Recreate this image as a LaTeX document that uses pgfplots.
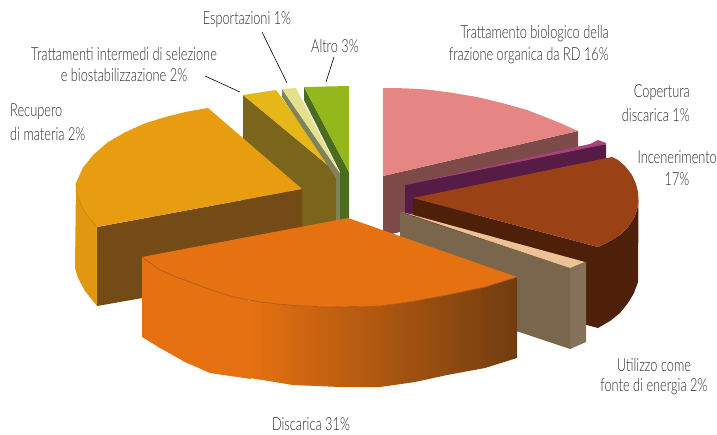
\documentclass[border=0pt]{standalone}
\usepackage{fontspec}
\setmainfont[FakeStretch=0.71]{Lato Light}
\usepackage{pgfplots}
\pgfplotsset{compat=1.18}
\definecolor{pinktop}{HTML}{E68684}
\definecolor{pinkside}{HTML}{7D4A4A}
\definecolor{purpletop}{HTML}{A8437A}
\definecolor{purpleside}{HTML}{561C46}
\definecolor{rusttop}{HTML}{9A4116}
\definecolor{rustside}{HTML}{4E2009}
\definecolor{peachtop}{HTML}{EBC396}
\definecolor{greyside}{HTML}{7A654D}
\definecolor{greyend}{HTML}{85705A}
\definecolor{yellowtop}{HTML}{E6B718}
\definecolor{oliveside}{HTML}{7B651A}
\definecolor{paletop}{HTML}{E5E08E}
\definecolor{paleside}{HTML}{80825A}
\definecolor{greentop}{HTML}{94B81C}
\definecolor{greenside}{HTML}{4A6C1C}
\definecolor{ambertop}{HTML}{E89C10}
\definecolor{amberside}{HTML}{744A16}
\definecolor{orangetop}{HTML}{E67110}
\definecolor{orangemid}{HTML}{B55A1B}
\definecolor{orangeend}{HTML}{713C10}
\definecolor{txt}{HTML}{2E2E2E}
\tikzset{lab/.style={text=txt,font=\fontsize{18}{20}\selectfont,inner sep=0pt}}
\begin{document}
\begin{tikzpicture}
\begin{axis}[scale only axis,width=717pt,height=435pt,xmin=0,xmax=717,ymin=0,ymax=435,y dir=reverse,axis lines=none,clip=false]
% pink
\addplot[fill=pinkside,draw=none] coordinates {(383,176)(578,131)(578,190)(383,236)} --cycle;
\addplot[fill=pinktop,draw=none] coordinates {(383,88)(405,88.3)(427,89.5)(450,92.5)(477,97)(502,103)(527,110)(545,117)(560,123)(578,131)(383,176)} --cycle;
% purple
\addplot[fill=purpleside,draw=none] coordinates {(405,185)(602,143)(606,145)(606,165)(405,215)} --cycle;
\addplot[fill=purpletop,draw=none] coordinates {(405,185)(590,144)(598,140)(606,143)(606,145)(602,145)} --cycle;
% incenerimento
\addplot[fill=rustside,draw=none] coordinates {(413,198)(598,247)(598,328)(413,280)} --cycle;
\addplot[fill=rustside,draw=none] coordinates {(598,247)(610,241)(620,235)(628,227)(634,218)(637,210)(638.5,200)(638,282)(634,293)(628,303)(620,313)(610,321)(598,328)} --cycle;
\addplot[fill=rusttop,draw=none] coordinates {(413,198)(612,157)(618,160)(625,166)(632,175)(636,184)(638,192)(638.5,200)(637,210)(634,218)(628,227)(620,235)(610,241)(598,247)} --cycle;
% utilizzo
\addplot[fill=greyside,draw=none] coordinates {(400,212)(570,268)(570,349)(400,292)} --cycle;
\addplot[fill=greyend,draw=none] coordinates {(570,268)(586,262)(586,342)(570,349)} --cycle;
\addplot[fill=peachtop,draw=none] coordinates {(402,212)(585,262)(570,268)} --cycle;
% trattamenti intermedi
\addplot[fill=oliveside,draw=none] coordinates {(243,95)(336,172)(336,235)(243,235)} --cycle;
\addplot[fill=yellowtop,draw=none] coordinates {(243,95)(276,90)(336,172)} --cycle;
% esportazioni
\addplot[fill=paleside,draw=none] coordinates {(282,89)(338,170)(341,175)(341,235)(336,235)(336,178)(282,97)} --cycle;
\addplot[fill=paletop,draw=none] coordinates {(282,89)(296,88)(339,172)} --cycle;
% altro
\addplot[fill=greenside,draw=none] coordinates {(304,87)(349,172)(349,230)(340,230)(340,172)(304,100)} --cycle;
\addplot[fill=greentop,draw=none] coordinates {(304,87)(349,86)(349,172)} --cycle;
% recupero
\addplot[fill=amberside,draw=none] coordinates {(97,227)(302,189)(302,270)(97,306)} --cycle;
\addplot[fill=ambertop!97!black,draw=none] coordinates {(76,183)(76.5,190)(78,197)(82,207)(89,218)(97,227)(97,306)(85,291)(78,278)(75,268)} --cycle;
\addplot[fill=ambertop,draw=none] coordinates {(208,108)(186.2,111.8)(164.7,117.2)(143.8,123.8)(124.8,132.4)(107.6,142.4)(93.7,154.4)(82.8,167.8)(76,183)(76.5,190)(78,197)(82,207)(89,218)(97,227)(302,189)} --cycle;
\addplot[color=ambertop!80!black,line width=0.4pt] coordinates {(76,183)(76.5,190)(78,197)(82,207)(89,218)(97,227)};
% discarica
\addplot[fill=orangetop,draw=none] coordinates {(142,257)(160,270)(176,277)(193,283)(210,289.5)(227,295)(251,301)(251,379)(210,373)(185,362)(160,348)(142,337)} --cycle;
\addplot[draw=none,left color=orangetop,middle color=orangemid,right color=orangeend] coordinates {(250,300.5)(293,305)(327,307)(380,306)(415,301)(447,295)(485,287)(517,277)(517,358)(485,368)(447,375)(415,382)(380,387)(340,387)(293,385)(250,378)} --cycle;
\addplot[fill=orangetop,draw=none] coordinates {(348,218)(517,277)(485,287)(447,295)(415,301)(380,306)(327,307)(293,305.5)(260,302)(243,299)(227,295)(210,289.5)(193,283)(176,277)(160,270)(142,257)} --cycle;
\addplot[color=orangemid,line width=0.7pt] coordinates {(142,257)(160,270)(176,277)(193,283)(210,289.5)(227,295)(243,299)(260,302)(293,305.5)(327,307)(380,306)(415,301)(447,295)(485,287)(517,277)};
% leader lines
\addplot[color=black,line width=0.6pt] coordinates {(262,32)(287,83)};
\addplot[color=black,line width=0.6pt] coordinates {(334,57)(326,82)};
\addplot[color=black,line width=0.6pt] coordinates {(205,76)(240,92)};
% labels
\node[lab] at (axis cs:247,20) {Esportazioni 1\%};
\node[lab] at (axis cs:335,46) {Altro 3\%};
\node[lab] at (axis cs:124,54) {Trattamenti intermedi di selezione};
\node[lab] at (axis cs:124,75) {e biostabilizzazione 2\%};
\node[lab,anchor=west] at (axis cs:10,112) {Recupero};
\node[lab,anchor=west] at (axis cs:10,134) {di materia 2\%};
\node[lab,anchor=east] at (axis cs:609,34) {Trattamento biologico della};
\node[lab,anchor=east] at (axis cs:609,56) {frazione organica da RD 16\%};
\node[lab,anchor=east] at (axis cs:690,93) {Copertura};
\node[lab,anchor=east] at (axis cs:690,115) {discarica 1\%};
\node[lab,anchor=east] at (axis cs:717,157) {Incenerimento};
\node[lab] at (axis cs:677,179) {17\%};
\node[lab] at (axis cs:654,365) {Utilizzo come};
\node[lab] at (axis cs:654,387) {fonte di energia 2\%};
\node[lab] at (axis cs:311,424) {Discarica 31\%};
\end{axis}
\useasboundingbox (0,0) rectangle (717pt,435pt);
\end{tikzpicture}
\end{document}
